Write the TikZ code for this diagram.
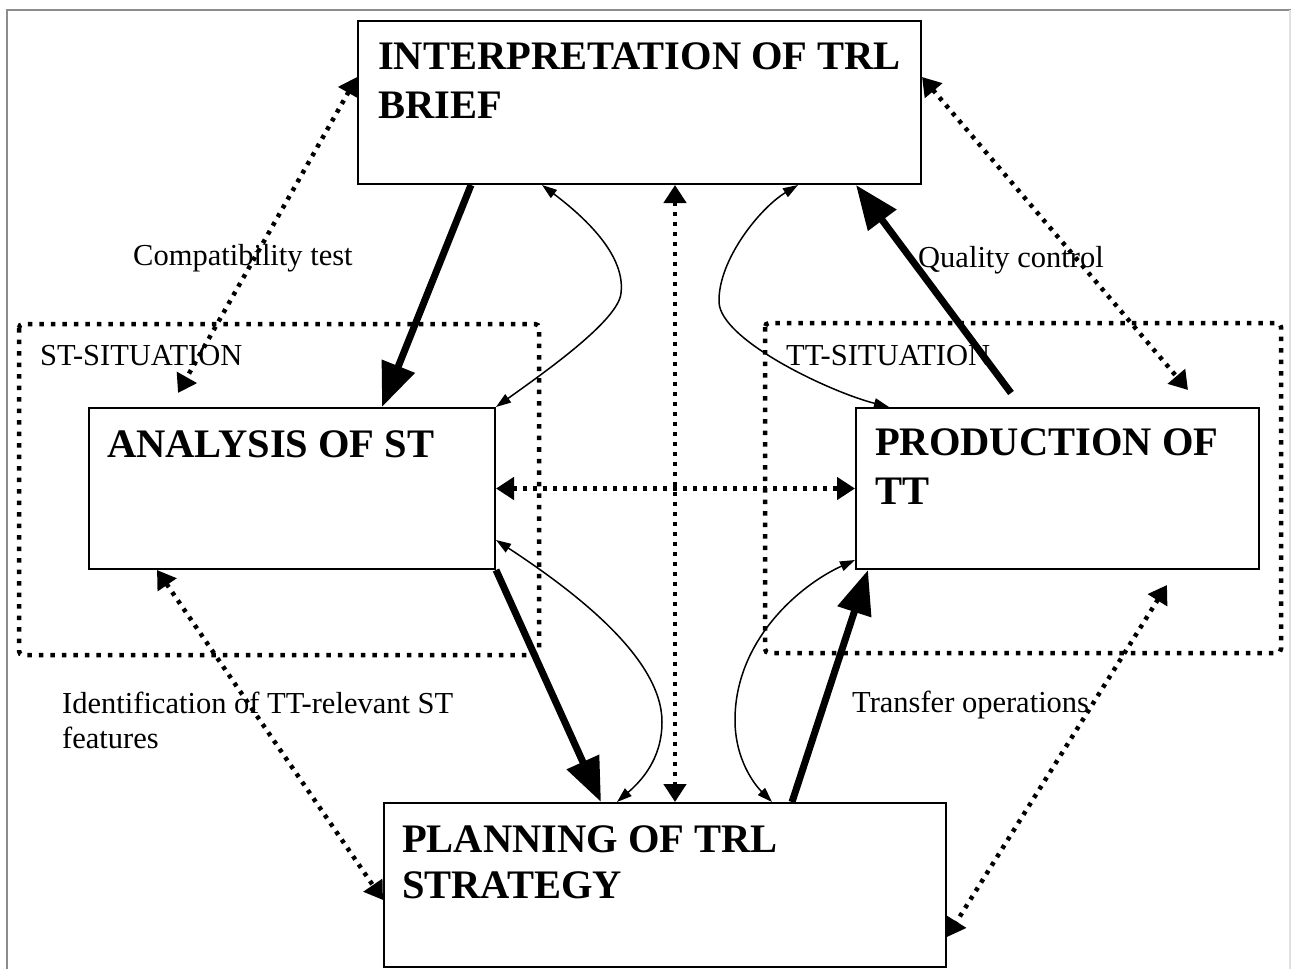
\documentclass[tikz,border=0pt]{standalone}
\usepackage{fontspec}
\setmainfont{Liberation Serif}
\usetikzlibrary{arrows.meta,calc}
\begin{document}
\begin{tikzpicture}[x=1pt,y=-1pt,
 box/.style={draw, line width=2pt, inner sep=0pt, anchor=north west},
 ttl/.style={font=\fontsize{40.5}{48}\selectfont\bfseries, anchor=base west, inner sep=0pt},
 lbl/.style={font=\fontsize{30.5}{36}\selectfont, anchor=base west, inner sep=0pt},
 sitframe/.style={line width=4.5pt, dash pattern=on 4.5pt off 7pt, rounded corners=4pt},
 heavy/.style={line width=7pt, -{Triangle[length=44pt,width=34pt]}},
 thinarr/.style={line width=1.5pt, {Triangle[length=15pt,width=10pt]}-{Triangle[length=15pt,width=10pt]}},
 dotarr/.style={line width=4.5pt, dash pattern=on 4pt off 6pt, {Triangle[length=18pt,width=22pt]}-{Triangle[length=18pt,width=22pt]}},
]
\useasboundingbox (0,0) rectangle (1291,969);
% page frame
\draw[black!45, line width=2pt] (1291,10) -- (7,10) -- (7,969);
\draw[black!12, line width=1.5pt] (1290,10) -- (1290,969);

% situation frames
\draw[sitframe] (19,324) rectangle (539,655);
\draw[sitframe] (765,323) rectangle (1281,653);
\node[lbl] (stsit) at (40,365) {ST-SITUATION};
\node[lbl] (ttsit) at (786,365) {TT-SITUATION};

% boxes
\node[box, minimum width=563pt, minimum height=163pt] (interp) at (357,20) {};
\node[box, minimum width=406pt, minimum height=161pt] (an) at (88,407) {};
\node[box, minimum width=403pt, minimum height=161pt] (prod) at (855,407) {};
\node[box, minimum width=562pt, minimum height=164pt] (plan) at (383,802) {};

\node[ttl] (t1a) at (378,69) {INTERPRETATION OF TRL};
\node[ttl] (t1b) at (378,118) {BRIEF};
\node[ttl] (t2) at (107,457) {ANALYSIS OF ST};
\node[ttl] (t3a) at (875,455) {PRODUCTION OF};
\node[ttl] (t3b) at (875,504) {TT};
\node[ttl] (t4a) at (402,852) {PLANNING OF TRL};
\node[ttl] (t4b) at (402,898) {STRATEGY};

% labels
\node[lbl] (l1) at (133,265) {Compatibility test};
\node[lbl] (l2) at (918,267) {Quality control};
\node[lbl] (l3) at (62,713) {Identification of TT-relevant ST};
\node[lbl] (l3b) at (62,748) {features};
\node[lbl] (l4) at (852,712) {Transfer operations};

% free ends
\coordinate (cA) at (178,393);
\coordinate (cB) at (1188,390);
\coordinate (cC) at (1167,585);
\coordinate (qs) at (1011,393);

% heavy arrows
\draw[heavy] ([xshift=114pt]interp.south west) -- ([xshift=294pt]an.north west);
\draw[heavy] (an.south east) -- ([xshift=218pt]plan.north west);
\draw[heavy] ([xshift=409pt]plan.north west) -- ([xshift=13pt]prod.south west);
\draw[heavy] (qs) -- ([xshift=499pt]interp.south west);

% thin curved arrows
\draw[thinarr] ([xshift=185pt]interp.south west) .. controls (595,225) and (625,260) .. (621,293)
   .. controls (619,320) and (545,372) .. (an.north east);
\draw[thinarr] ([xshift=441pt]interp.south west) .. controls (760,208) and (718,260) .. (719,302)
   .. controls (720,340) and (830,392) .. ([xshift=34pt]prod.north west);
\draw[thinarr] ([yshift=30pt]an.south east) .. controls (580,595) and (662,660) .. (662,722)
   .. controls (662,760) and (640,782) .. ([xshift=234pt]plan.north west);
\draw[thinarr] ([yshift=10pt]prod.south west) .. controls (800,585) and (735,640) .. (735,720)
   .. controls (735,760) and (755,785) .. ([xshift=389pt]plan.north west);

% dotted arrows
\draw[dotarr] ([xshift=318pt]interp.south west) -- ([xshift=292pt]plan.north west);
\draw[dotarr] (an.east) -- (prod.west);
\draw[dotarr] ([yshift=-57pt]interp.north west) -- (cA);
\draw[dotarr] ([yshift=-57pt]interp.north east) -- (cB);
\draw[dotarr] ([xshift=69pt]an.south west) -- ([yshift=-98pt]plan.north west);
\draw[dotarr] (cC) -- ([yshift=-135pt]plan.north east);
\end{tikzpicture}
\end{document}
